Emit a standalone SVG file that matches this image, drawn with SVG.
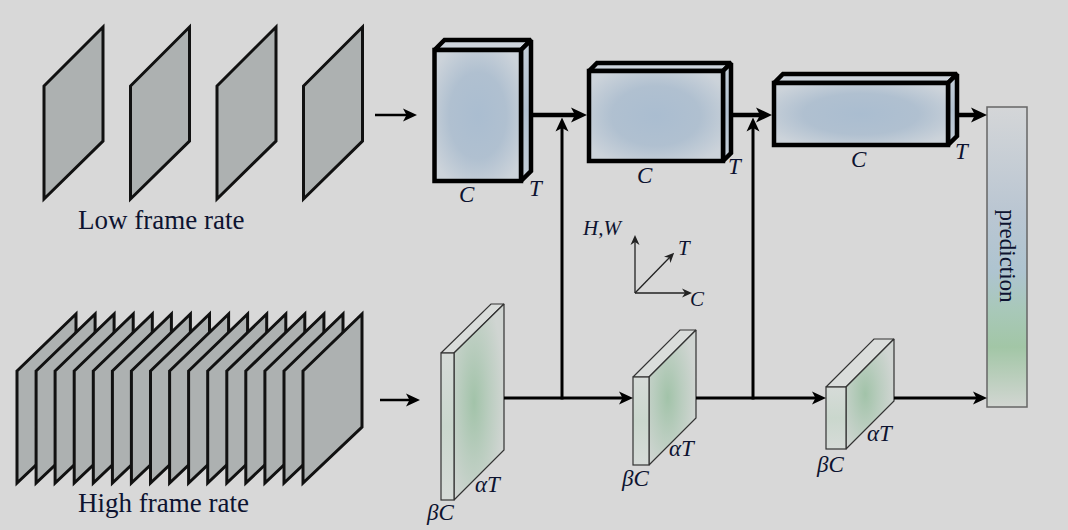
<svg xmlns="http://www.w3.org/2000/svg" width="1068" height="530" viewBox="0 0 1068 530">
<style>
.frame{fill:#adb1b1;stroke:#111;stroke-width:3;stroke-linejoin:miter;stroke-miterlimit:3}
.slow{stroke:#000;stroke-width:4.5;stroke-linejoin:miter;stroke-miterlimit:2}
.fast{stroke:#333;stroke-width:1.2;stroke-linejoin:miter;stroke-miterlimit:2}
.lbl{font-family:"Liberation Serif",serif;font-style:italic;font-size:23px;fill:#0d1330}
.ax{font-family:"Liberation Serif",serif;font-style:italic;font-size:21px;fill:#0d1330}
.cap{font-family:"Liberation Serif",serif;font-size:27px;fill:#0d1330}
.thick{fill:none;stroke:#000;stroke-width:4.5}
.mid{fill:none;stroke:#000;stroke-width:3}
.thin{fill:none;stroke:#000;stroke-width:2.5}
.axl{fill:none;stroke:#222;stroke-width:1.3}
</style>
<defs>
<marker id="ah" markerUnits="userSpaceOnUse" viewBox="0 0 16 16" markerWidth="16" markerHeight="16" refX="8" refY="8" orient="auto">
<path d="M16,8 L0,0.5 L4,8 L0,15.5 Z" fill="#000"/>
</marker>
<marker id="ahs" markerUnits="userSpaceOnUse" viewBox="0 0 14 14" markerWidth="14" markerHeight="14" refX="7" refY="7" orient="auto">
<path d="M14,7 L0,0.5 L3.5,7 L0,13.5 Z" fill="#000"/>
</marker>
<marker id="axh" markerUnits="userSpaceOnUse" viewBox="0 0 10 10" markerWidth="10" markerHeight="10" refX="4" refY="5" orient="auto">
<path d="M10,5 L0,0.5 L3,5 L0,9.5 Z" fill="#222"/>
</marker>
<radialGradient id="gBlue" cx="0.5" cy="0.5" r="0.6">
<stop offset="0" stop-color="#aabdd0"/>
<stop offset="0.55" stop-color="#b0c0d0"/>
<stop offset="1" stop-color="#ccd3da"/>
</radialGradient>
<linearGradient id="gBlueSide" x1="0" y1="0" x2="0" y2="1">
<stop offset="0" stop-color="#c4ced8"/>
<stop offset="0.5" stop-color="#b2c1d0"/>
<stop offset="1" stop-color="#c4ced8"/>
</linearGradient>
<radialGradient id="gGreen" cx="0.4" cy="0.5" r="0.6">
<stop offset="0" stop-color="#a2c3a9"/>
<stop offset="0.5" stop-color="#bacdbf"/>
<stop offset="1" stop-color="#d0d5d2"/>
</radialGradient>
<linearGradient id="gGreenFront" x1="0" y1="0" x2="0" y2="1">
<stop offset="0" stop-color="#d6dbd8"/>
<stop offset="0.5" stop-color="#cad7cd"/>
<stop offset="1" stop-color="#d6dbd8"/>
</linearGradient>
<linearGradient id="gPred" x1="0" y1="0" x2="0" y2="1">
<stop offset="0" stop-color="#d4d6d8"/>
<stop offset="0.35" stop-color="#bac6d2"/>
<stop offset="0.55" stop-color="#aec4d0"/>
<stop offset="0.68" stop-color="#a8c8b8"/>
<stop offset="0.8" stop-color="#a2c6a6"/>
<stop offset="1" stop-color="#d2d6d2"/>
</linearGradient>
</defs>
<rect width="1068" height="530" fill="#d8d8d8"/>

<g id="low-frames">
<polygon class="frame" points="44,86 103,27 103,141 44,199"/>
<polygon class="frame" points="130.5,86 189.5,27 189.5,141 130.5,199"/>
<polygon class="frame" points="217,86 276,27 276,141 217,199"/>
<polygon class="frame" points="303.5,86 362.5,27 362.5,141 303.5,199"/>
<text class="cap" x="78" y="229">Low frame rate</text>
</g>

<g id="high-frames">
<polygon class="frame" points="17,371 76,314 76,427 17,483"/>
<polygon class="frame" points="36.1,371 95.1,314 95.1,427 36.1,483"/>
<polygon class="frame" points="55.1,371 114.1,314 114.1,427 55.1,483"/>
<polygon class="frame" points="74.2,371 133.2,314 133.2,427 74.2,483"/>
<polygon class="frame" points="93.3,371 152.3,314 152.3,427 93.3,483"/>
<polygon class="frame" points="112.4,371 171.4,314 171.4,427 112.4,483"/>
<polygon class="frame" points="131.4,371 190.4,314 190.4,427 131.4,483"/>
<polygon class="frame" points="150.5,371 209.5,314 209.5,427 150.5,483"/>
<polygon class="frame" points="169.6,371 228.6,314 228.6,427 169.6,483"/>
<polygon class="frame" points="188.6,371 247.6,314 247.6,427 188.6,483"/>
<polygon class="frame" points="207.7,371 266.7,314 266.7,427 207.7,483"/>
<polygon class="frame" points="226.8,371 285.8,314 285.8,427 226.8,483"/>
<polygon class="frame" points="245.8,371 304.8,314 304.8,427 245.8,483"/>
<polygon class="frame" points="264.9,371 323.9,314 323.9,427 264.9,483"/>
<polygon class="frame" points="284,371 343,314 343,427 284,483"/>
<polygon class="frame" points="303,371 362,314 362,427 303,483"/>
<text class="cap" x="78" y="512">High frame rate</text>
</g>

<g id="slow1">
<polygon class="slow" fill="#cdd4dc" points="434.5,50 444.5,40 531,40 521,50"/>
<polygon class="slow" fill="url(#gBlueSide)" points="521,50 531,40 531,171 521,181"/>
<rect class="slow" fill="url(#gBlue)" x="434.5" y="50" width="86.5" height="131"/>
<text class="lbl" x="459" y="202">C</text>
<text class="lbl" x="529" y="196">T</text>
</g>

<g id="slow2">
<polygon class="slow" fill="#cdd4dc" points="589,71 597,63 731,63 723,71"/>
<polygon class="slow" fill="url(#gBlueSide)" points="723,71 731,63 731,153 723,161"/>
<rect class="slow" fill="url(#gBlue)" x="589" y="71" width="134" height="90"/>
<text class="lbl" x="637" y="183">C</text>
<text class="lbl" x="728" y="174">T</text>
</g>

<g id="slow3">
<polygon class="slow" fill="#cdd4dc" points="774,83 783,74 957,74 948,83"/>
<polygon class="slow" fill="url(#gBlueSide)" points="948,83 957,74 957,136 948,145"/>
<rect class="slow" fill="url(#gBlue)" x="774" y="83" width="174" height="62"/>
<text class="lbl" x="851" y="167">C</text>
<text class="lbl" x="955" y="159">T</text>
</g>

<g id="fast1">
<polygon class="fast" fill="#dadddb" points="441,353 491,304 504,304 454,353"/>
<polygon class="fast" fill="url(#gGreen)" points="454,353 504,304 504,450 454,500"/>
<rect class="fast" fill="url(#gGreenFront)" x="441" y="353" width="13" height="147"/>
<text class="lbl" x="475" y="492">αT</text>
<text class="lbl" x="427" y="520">βC</text>
</g>

<g id="fast2">
<polygon class="fast" fill="#dadddb" points="633,377 680,330 696,330 649,377"/>
<polygon class="fast" fill="url(#gGreen)" points="649,377 696,330 696,418 649,465"/>
<rect class="fast" fill="url(#gGreenFront)" x="633" y="377" width="16" height="88"/>
<text class="lbl" x="669" y="456">αT</text>
<text class="lbl" x="622" y="486">βC</text>
</g>

<g id="fast3">
<polygon class="fast" fill="#dadddb" points="826,387 874,339 894,339 846,387"/>
<polygon class="fast" fill="url(#gGreen)" points="846,387 894,339 894,401 846,449"/>
<rect class="fast" fill="url(#gGreenFront)" x="826" y="387" width="20" height="62"/>
<text class="lbl" x="867" y="441">αT</text>
<text class="lbl" x="817" y="472">βC</text>
</g>

<g id="prediction">
<rect x="987" y="107" width="40" height="300" fill="url(#gPred)" stroke="#666" stroke-width="1.5"/>
<text font-family="'Liberation Serif',serif" font-size="23" fill="#0d1330" text-anchor="middle" transform="translate(1000,256) rotate(90)">prediction</text>
</g>

<g id="axes">
<line class="axl" x1="635" y1="293" x2="635" y2="241" marker-end="url(#axh)"/>
<line class="axl" x1="635" y1="293" x2="686" y2="293" marker-end="url(#axh)"/>
<line class="axl" stroke-width="1" x1="635" y1="293" x2="670" y2="257" marker-end="url(#axh)"/>
<text class="ax" x="583" y="235">H,W</text>
<text class="ax" x="678" y="255">T</text>
<text class="ax" x="690" y="306">C</text>
</g>

<g id="connectors">
<line class="thin" x1="375" y1="115" x2="410" y2="115" marker-end="url(#ahs)"/>
<line class="thin" x1="380" y1="400" x2="413" y2="400" marker-end="url(#ahs)"/>
<line class="thick" x1="531" y1="115" x2="579" y2="115" marker-end="url(#ah)"/>
<line class="thick" x1="731" y1="115" x2="764" y2="115" marker-end="url(#ah)"/>
<line class="thick" x1="957" y1="115" x2="979" y2="115" marker-end="url(#ah)"/>
<line class="mid" x1="504" y1="398" x2="626" y2="398" marker-end="url(#ahs)"/>
<line class="mid" x1="696" y1="398" x2="819" y2="398" marker-end="url(#ahs)"/>
<line class="mid" x1="894" y1="398" x2="980" y2="398" marker-end="url(#ahs)"/>
<line class="mid" x1="562" y1="399.5" x2="562" y2="124.5" marker-end="url(#ahs)"/>
<line class="mid" x1="753" y1="399.5" x2="753" y2="124.5" marker-end="url(#ahs)"/>
</g>
</svg>
